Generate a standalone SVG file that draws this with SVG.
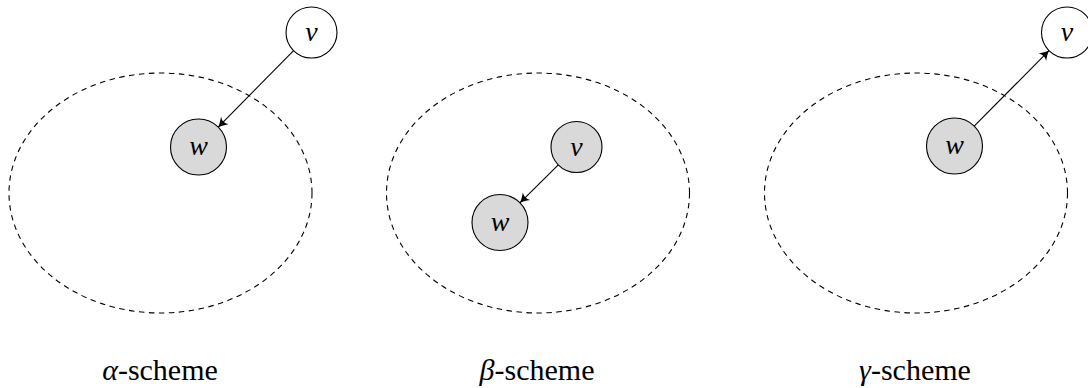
<svg xmlns="http://www.w3.org/2000/svg" width="1088" height="388" viewBox="0 0 1088 388">
<style>
.region{fill:none;stroke:#000;stroke-width:1.1;stroke-dasharray:5.5 4.5}
.open{fill:#fff;stroke:#000;stroke-width:1.1}
.grey{fill:#d9d9d9;stroke:#000;stroke-width:1.1}
.lbl{font-family:'Liberation Serif','Times New Roman',serif;font-style:italic;font-size:28px;text-anchor:middle}
.cap{font-family:'Liberation Serif','Times New Roman',serif;font-size:30px;text-anchor:middle}
.edge{stroke:#000;stroke-width:1.1;fill:none;marker-end:url(#ah)}
</style>
<defs>
<marker id="ah" markerUnits="userSpaceOnUse" markerWidth="14" markerHeight="14" viewBox="-10 -6 12 12" refX="0" refY="0" orient="auto">
<path d="M-8,-4.5 Q-3,-1 0,0 Q-3,1 -8,4.5 Q-5,0 -8,-4.5 Z" fill="#000"/>
</marker>
</defs>
<g id="regions">
<ellipse class="region" cx="160.5" cy="193" rx="151.5" ry="120"/>
<ellipse class="region" cx="538" cy="193" rx="151.5" ry="120"/>
<ellipse class="region" cx="916" cy="193" rx="151.5" ry="120"/>
</g>
<g id="connectors">
<line class="edge" x1="293.6" y1="50.7" x2="218.2" y2="127.1"/>
<line class="edge" x1="558.3" y1="164.9" x2="519.9" y2="202.8"/>
<line class="edge" x1="974.2" y1="126.1" x2="1049" y2="50.6"/>
</g>
<g id="alpha-v"><circle class="open" cx="311.5" cy="32.5" r="25.5"/><text class="lbl" x="311.5" y="41">v</text></g>
<g id="alpha-w"><circle class="grey" cx="198.5" cy="147" r="28"/><text class="lbl" x="198.5" y="155">w</text></g>
<g id="beta-v"><circle class="grey" cx="576.5" cy="147" r="25.5"/><text class="lbl" x="576.5" y="155.5">v</text></g>
<g id="beta-w"><circle class="grey" cx="500" cy="222.5" r="28"/><text class="lbl" x="500" y="230.5">w</text></g>
<g id="gamma-v"><circle class="open" cx="1067" cy="32.5" r="25.5"/><text class="lbl" x="1067" y="41">v</text></g>
<g id="gamma-w"><circle class="grey" cx="954.5" cy="146" r="28"/><text class="lbl" x="954.5" y="154">w</text></g>
<g id="captions">
<text class="cap" x="160" y="380"><tspan font-style="italic">α</tspan>-scheme</text>
<text class="cap" x="537" y="380"><tspan font-style="italic">β</tspan>-scheme</text>
<text class="cap" x="915" y="380"><tspan font-style="italic">γ</tspan>-scheme</text>
</g>
</svg>
